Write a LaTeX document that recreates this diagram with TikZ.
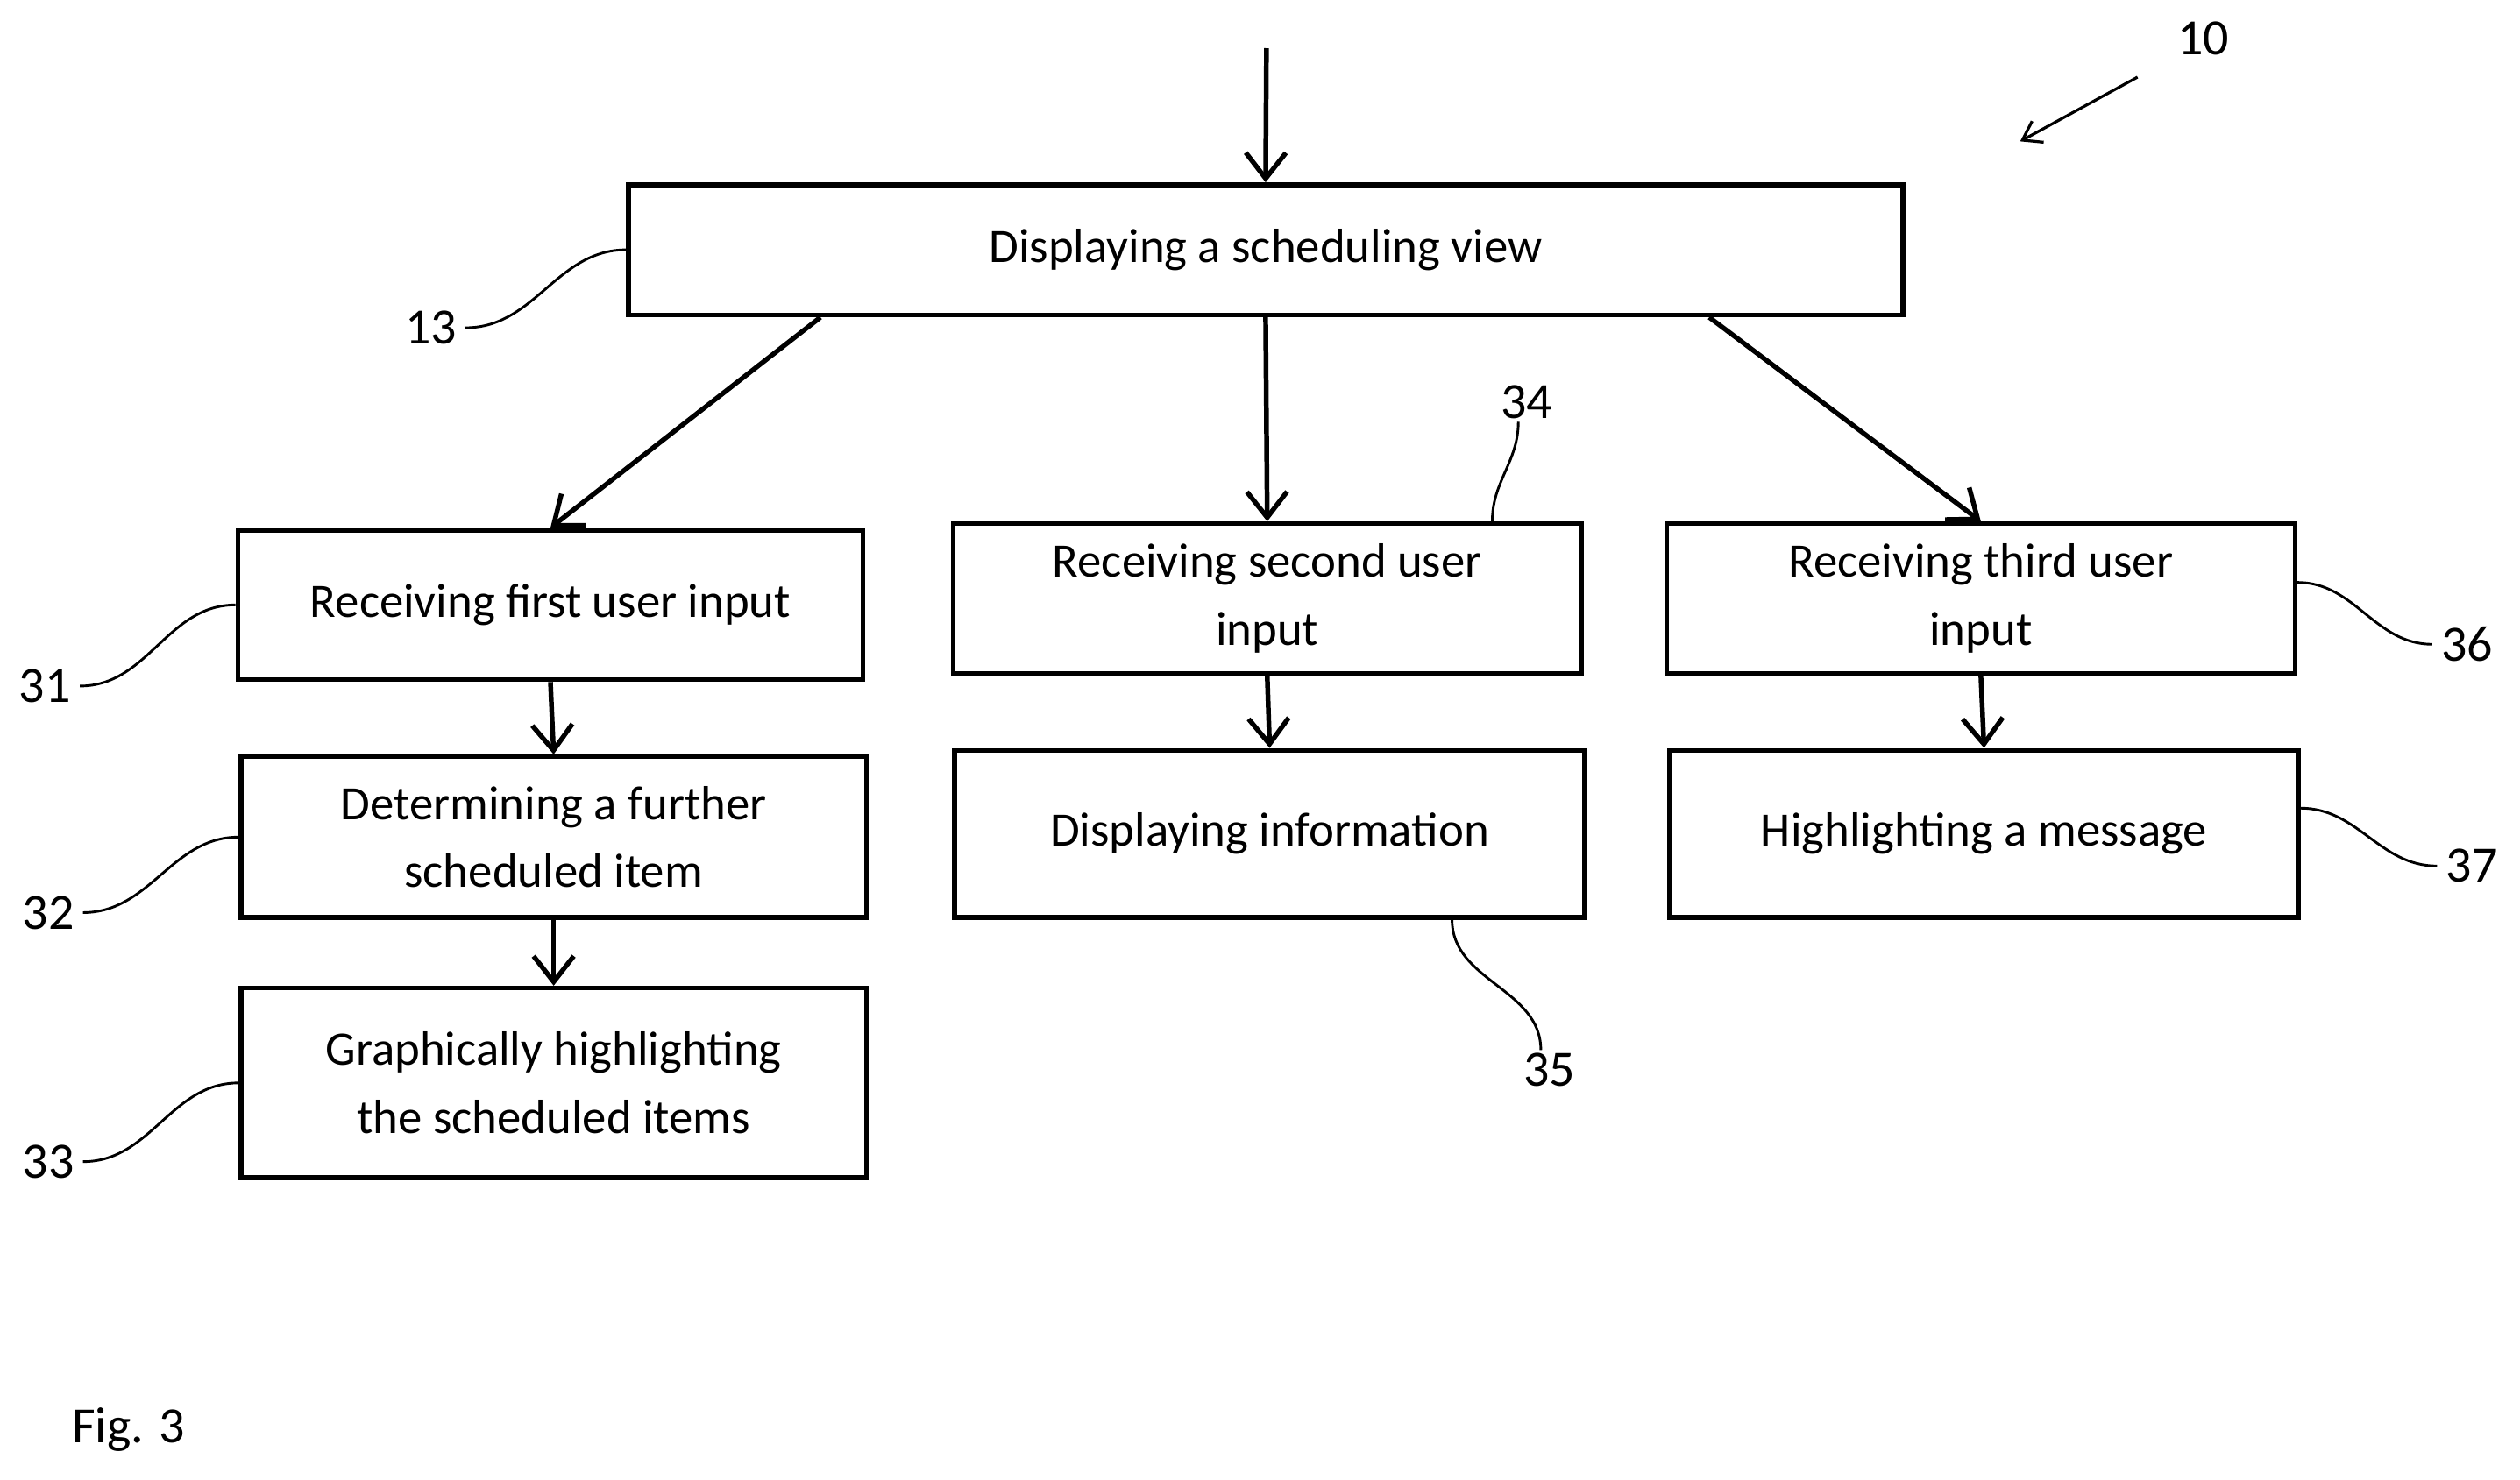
\documentclass[tikz,border=0pt]{standalone}
\usepackage{fontspec}
\setmainfont{Carlito}
\usetikzlibrary{arrows.meta,positioning}

\tikzset{
  stepbox/.style = {draw, line width = 1.7pt, shape = rectangle, align = center, font = \fontsize{17}{24}\selectfont, inner sep = 0pt},
  flow/.style = {line width = 1.7pt, -{Straight Barb[length = 3.2mm, width = 5mm, line width = 1.7pt]}},
  ref/.style = {font = \fontsize{18}{20}\selectfont, inner sep = 1pt},
  wave/.style = {line width = 0.9pt}
}

\begin{document}
\begin{tikzpicture}
\useasboundingbox (0,0) rectangle (31.36,-18.42);
% boxes
\node[stepbox, minimum width = 15.86cm, minimum height = 1.62cm] (13) at (15.75,-3.11) {Displaying a scheduling view};
\node[stepbox, minimum width = 7.78cm, minimum height = 1.86cm] (31) at (6.85,-7.53) {Receiving first user input};
\node[stepbox, minimum width = 7.78cm, minimum height = 2.0cm] (32) at (6.89,-10.42) {Determining a further\\scheduled item};
\node[stepbox, minimum width = 7.78cm, minimum height = 2.36cm] (33) at (6.89,-13.48) {Graphically highlighting\\the scheduled items};
\node[stepbox, minimum width = 7.82cm, minimum height = 1.86cm] (34) at (15.77,-7.45) {Receiving second user\\input};
\node[stepbox, minimum width = 7.84cm, minimum height = 2.08cm] (35) at (15.80,-10.38) {Displaying information};
\node[stepbox, minimum width = 7.82cm, minimum height = 1.86cm] (36) at (24.65,-7.45) {Receiving third user\\input};
\node[stepbox, minimum width = 7.82cm, minimum height = 2.08cm] (37) at (24.69,-10.38) {Highlighting a message};
% arrows
\coordinate (in) at (15.76,-0.6);
\draw[flow] (in) -- (13.north);
\draw[flow] ([xshift=-5.54cm]13.south) -- (31.north);
\draw[flow] (13.south) -- (34.north);
\draw[flow] ([xshift=5.52cm]13.south) -- (36.north);
\draw[flow] (31.south) -- (32.north);
\draw[flow] (32.south) -- (33.north);
\draw[flow] (34.south) -- (35.north);
\draw[flow] (36.south) -- (37.north);
% reference numerals
\node[ref] (l10) at (27.42,-0.48) {10};
\coordinate (p10a) at (26.6,-0.96);
\coordinate (p10b) at (25.14,-1.76);
\draw[line width = 1pt, -{Straight Barb[length = 2.2mm, width = 3mm]}] (p10a) -- (p10b);
\node[ref] (l13) at (5.36,-4.08) {13};
\node[ref] (l31) at (0.56,-8.54) {31};
\node[ref] (l32) at (0.60,-11.36) {32};
\node[ref] (l33) at (0.60,-14.46) {33};
\node[ref] (l34) at (19.0,-5.0) {34};
\node[ref] (l35) at (19.28,-13.32) {35};
\node[ref] (l36) at (30.7,-8.02) {36};
\node[ref] (l37) at (30.76,-10.78) {37};
\draw[wave] ([xshift=2pt]l13.east) to[out=0, in=180] (13.west);
\draw[wave] ([xshift=2pt]l31.east) to[out=0, in=180] (31.west);
\draw[wave] ([xshift=2pt]l32.east) to[out=0, in=180] (32.west);
\draw[wave] ([xshift=2pt]l33.east) to[out=0, in=180] (33.west);
\draw[wave] ([xshift=-3pt]l34.south) to[out=-90, in=90] ([xshift=-1.14cm]34.north east);
\draw[wave] ([xshift=-3pt]l35.north) to[out=90, in=-90] ([xshift=-1.68cm]35.south east);
\draw[wave] ([xshift=-2pt]l36.west) to[out=180, in=0] ([yshift=0.2cm]36.east);
\draw[wave] ([xshift=-2pt]l37.west) to[out=180, in=0] ([yshift=0.32cm]37.east);
\node[ref] (fig) at (1.6,-17.8) {Fig. 3};
\end{tikzpicture}
\end{document}
